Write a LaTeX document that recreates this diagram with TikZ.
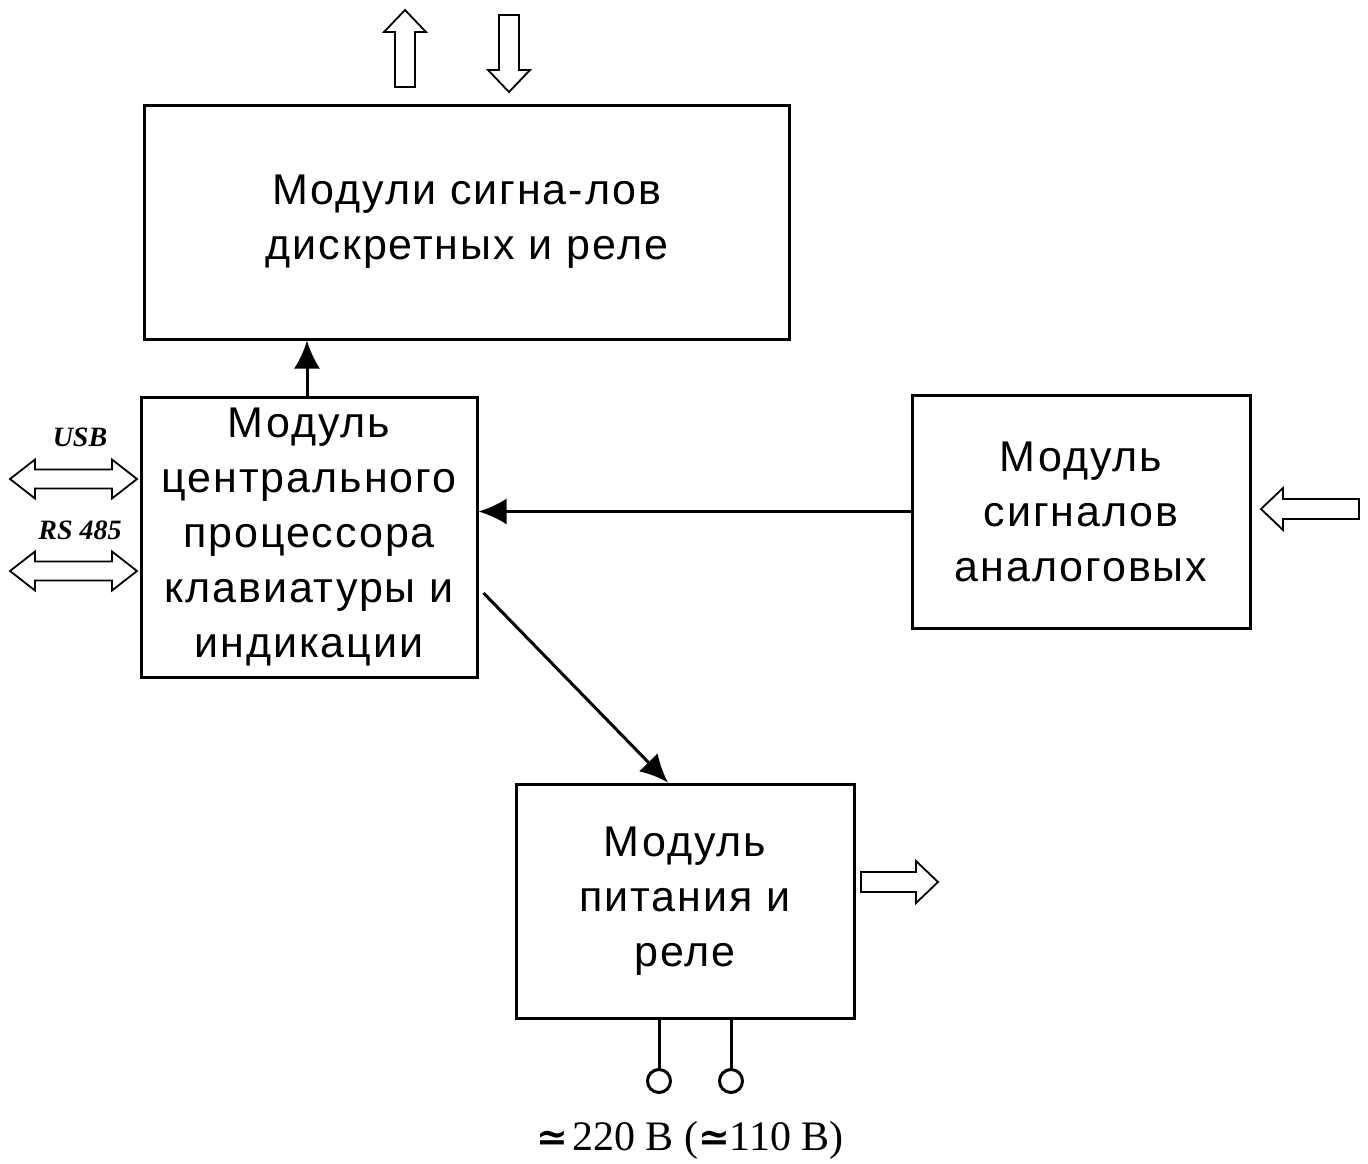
\documentclass[tikz,border=0pt]{standalone}
\usepackage{fontspec}
\setmainfont{Liberation Sans}
\newfontfamily\boxfnt[LetterSpace=4.5]{Liberation Sans}
\newfontfamily\serfnt{Liberation Serif}
\newfontfamily\symfnt{DejaVu Serif}
\usetikzlibrary{arrows.meta}
\usetikzlibrary{positioning}
\tikzset{box/.style = {draw, line width=3pt, align=center, inner sep=0,
                       font=\boxfnt\fontsize{43}{55}\selectfont}}
\tikzset{conn/.style = {line width=3pt, -{Latex[length=28pt,width=26pt]}}}
\tikzset{hollow/.style = {draw, fill=white, line width=1.8pt, line join=miter}}
\tikzset{term/.style = {draw, circle, line width=3pt, inner sep=0, minimum size=23pt}}
\tikzset{iface/.style = {font=\serfnt\fontsize{28}{30}\selectfont\bfseries\itshape}}
\tikzset{pics/fatarrow/.style = {code = {
  \draw [hollow] (0, -10) -- (#1-22, -10) -- (#1-22, -21) -- (#1, 0)
                 -- (#1-22, 21) -- (#1-22, 10) -- (0, 10) -- cycle;}}}
\tikzset{pics/dblarrow/.style = {code = {
  \draw [hollow] (0, 0) -- (25, -19.5) -- (25, -9.5) -- (#1-25, -9.5) -- (#1-25, -19.5)
                 -- (#1, 0) -- (#1-25, 19.5) -- (#1-25, 9.5) -- (25, 9.5) -- (25, 19.5) -- cycle;}}}
\newcommand\approxsign{{\symfnt\bfseries\fontsize{38}{38}\selectfont ≃}}
\begin{document}
\begin{tikzpicture}[x=1pt, y=-1pt]
      \useasboundingbox (0, 0) rectangle (1368, 1164);

      % blocks
      \node [box, minimum width=645, minimum height=234] (relay) at (467, 222)
            {Модули сигна-лов\\дискретных и реле};
      \node [box, minimum width=336, minimum height=280] (cpu) at (309, 537)
            {Модуль\\центрального\\процессора\\клавиатуры и\\индикации};
      \node [box, minimum width=338, minimum height=233] (analog) at (1081, 511.5)
            {Модуль\\сигналов\\аналоговых};
      \node [box, minimum width=338, minimum height=234] (power) at (685, 901)
            {Модуль\\питания и\\реле};

      % links
      \draw [conn] (cpu.north -| 307, 0) -- (relay.south -| 307, 0);
      \draw [conn] (analog.west) -- (analog.west -| cpu.east);
      \draw [conn] ([xshift=5pt, yshift=-56pt] cpu.east) -- ([xshift=-17pt] power.north);

      % outer signals
      \pic [rotate=90] at (405, 87) {fatarrow=77};
      \pic [rotate=-90] at (509, 15) {fatarrow=77};
      \pic [rotate=180] at (1359, 509) {fatarrow=98};
      \pic at (861, 882) {fatarrow=77};
      \pic at (10, 479) {dblarrow=127};
      \pic at (10, 571) {dblarrow=127};
      \node [iface] (usb) at (80, 437) {USB};
      \node [iface] (rs) at (80, 530) {RS 485};

      % mains terminals
      \node [term] (ta) at (659, 1081) {};
      \node [term] (tb) at (731, 1081) {};
      \draw [line width=3pt] (ta.north |- power.south) -- (ta.north);
      \draw [line width=3pt] (tb.north |- power.south) -- (tb.north);
      \node [font=\serfnt\fontsize{42}{48}\selectfont] (mains) at (690, 1140)
            {\approxsign\kern4pt 220 В (\approxsign 110 В)};
\end{tikzpicture}
\end{document}
